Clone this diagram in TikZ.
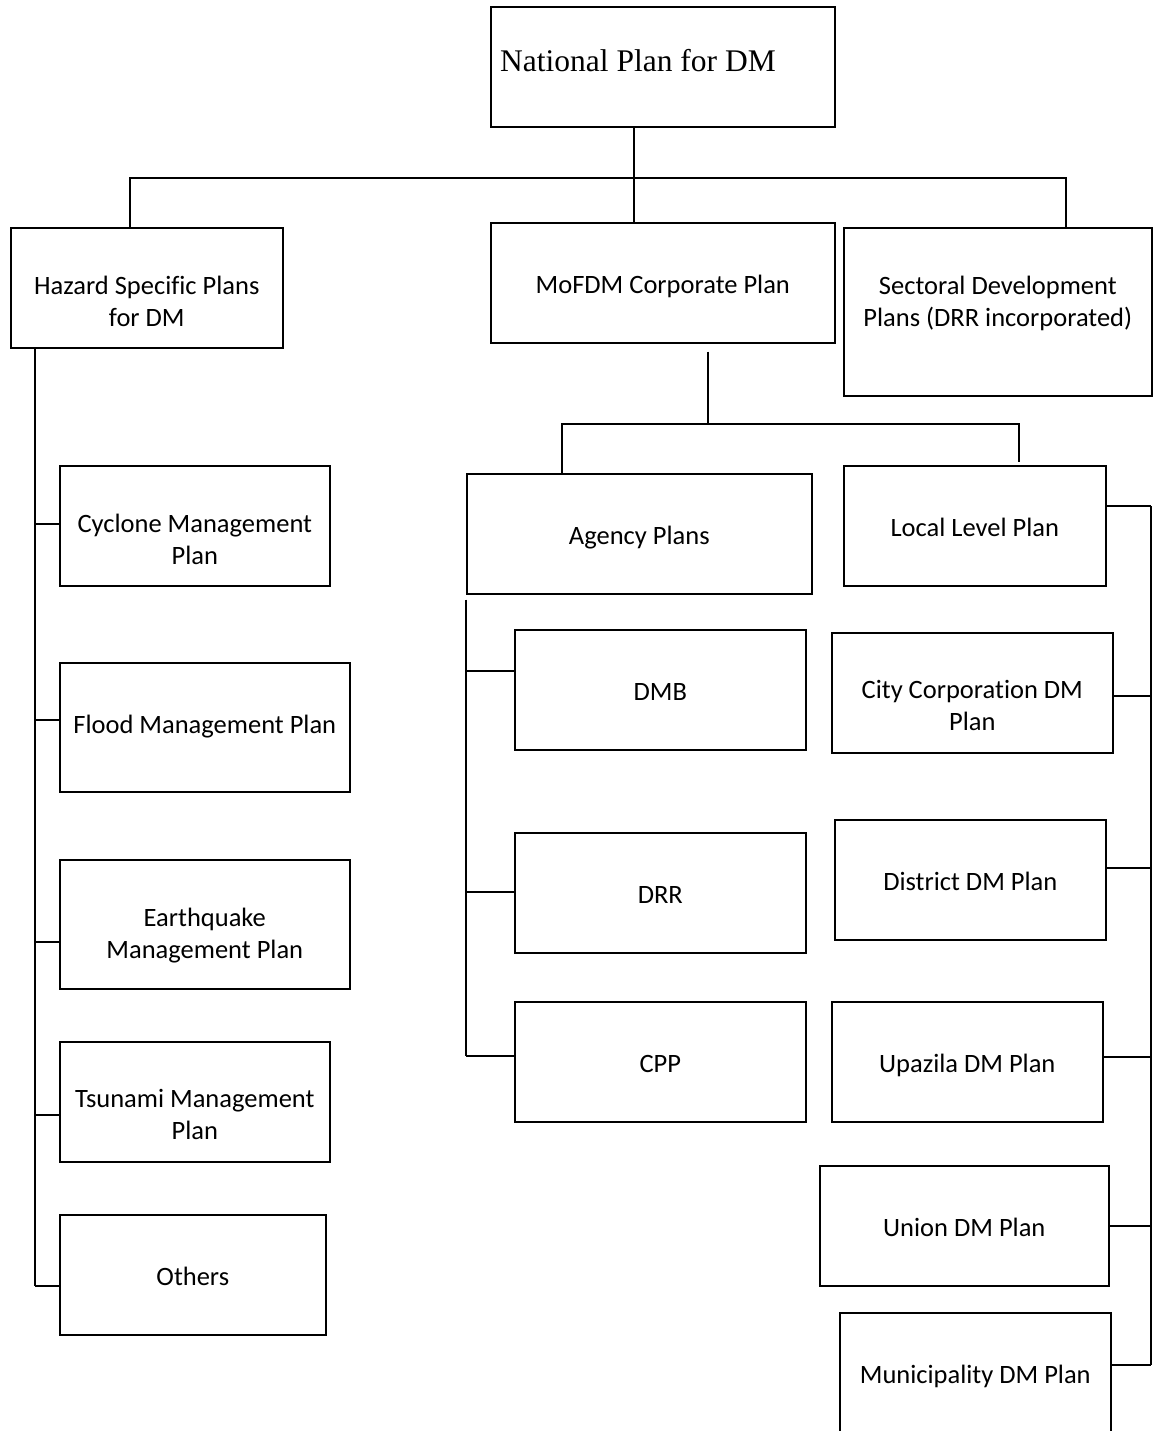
\documentclass[tikz,border=0pt]{standalone}
\usepackage{fontspec}
\setmainfont{Carlito}[Ligatures=NoCommon]
\newfontfamily\titlefont{Liberation Serif}
\usepackage{tikz}

\tikzset{
  box/.style={draw, line width=1.6pt, anchor=north west, inner sep=0pt},
  lbl/.style={anchor=north, inner sep=0pt, yshift=-48.5pt, align=center,
    font=\fontsize{26.5}{32}\selectfont, execute at begin node=\strut},
  ttl/.style={anchor=base west, inner sep=0pt, xshift=10pt, yshift=-66pt,
    font=\titlefont\fontsize{31.5}{38}\selectfont},
  link/.style={line width=1.6pt}
}

\begin{document}
\begin{tikzpicture}[x=1pt,y=-1pt]
\clip (0,0) rectangle (1154,1431);
\fill[white] (0,0) rectangle (1154,1431);

% top level
\node[box, minimum width=344pt, minimum height=120pt, label={[ttl]north west:National Plan for DM}] (national) at (490,6) {};
\node[box, minimum width=272pt, minimum height=120pt, label={[lbl]north:{Hazard Specific Plans\\for DM}}] (hazard) at (10,227) {};
\node[box, minimum width=344pt, minimum height=120pt, label={[lbl]north:MoFDM Corporate Plan}] (mofdm) at (490,222) {};
\node[box, minimum width=308pt, minimum height=168pt, label={[lbl]north:{Sectoral Development\\Plans (DRR incorporated)}}] (sectoral) at (843,227) {};

% hazard plans
\node[box, minimum width=270pt, minimum height=120pt, label={[lbl]north:{Cyclone Management\\Plan}}] (cyclone) at (59,465) {};
\node[box, minimum width=290pt, minimum height=129pt, label={[lbl]north:Flood Management Plan}] (flood) at (59,662) {};
\node[box, minimum width=290pt, minimum height=129pt, label={[lbl]north:{Earthquake\\Management Plan}}] (quake) at (59,859) {};
\node[box, minimum width=270pt, minimum height=120pt, label={[lbl]north:{Tsunami Management\\Plan}}] (tsunami) at (59,1041) {};
\node[box, minimum width=266pt, minimum height=120pt, label={[lbl]north:Others}] (others) at (59,1214) {};

% agency plans
\node[box, minimum width=345pt, minimum height=120pt, label={[lbl]north:Agency Plans}] (agency) at (466,473) {};
\node[box, minimum width=291pt, minimum height=120pt, label={[lbl]north:DMB}] (dmb) at (514,629) {};
\node[box, minimum width=291pt, minimum height=120pt, label={[lbl]north:DRR}] (drr) at (514,832) {};
\node[box, minimum width=291pt, minimum height=120pt, label={[lbl]north:CPP}] (cpp) at (514,1001) {};

% local level plans
\node[box, minimum width=262pt, minimum height=120pt, label={[lbl]north:Local Level Plan}] (local) at (843,465) {};
\node[box, minimum width=281pt, minimum height=120pt, label={[lbl]north:{City Corporation DM\\Plan}}] (city) at (831,632) {};
\node[box, minimum width=271pt, minimum height=120pt, label={[lbl]north:District DM Plan}] (district) at (834,819) {};
\node[box, minimum width=271pt, minimum height=120pt, label={[lbl]north:Upazila DM Plan}] (upazila) at (831,1001) {};
\node[box, minimum width=289pt, minimum height=120pt, label={[lbl]north:Union DM Plan}] (union) at (819,1165) {};
\node[box, minimum width=271pt, minimum height=140pt, label={[lbl]north:Municipality DM Plan}] (munic) at (839,1312) {};

% buses
\coordinate (jn1) at (634,178);
\coordinate (busL) at (130,178);
\coordinate (busR) at (1066,178);
\draw[link] (jn1 |- national.south) -- (jn1 |- mofdm.north);
\draw[link] (busL |- hazard.north) -- (busL) -- (busR) -- (busR |- sectoral.north);

\coordinate (jn2) at (708,424);
\coordinate (busA) at (562,424);
\coordinate (busB) at (1019,424);
\draw[link] (jn2 |- mofdm.south) ++(0,8) -- (jn2);
\draw[link] (busA |- agency.north) -- (busA) -- (busB) -- (1019,462);

% spines
\coordinate (spL) at (35,1286);
\draw[link] (spL |- hazard.south) -- (spL);
\foreach \n/\y in {cyclone/524, flood/720, quake/942, tsunami/1115, others/1286}
  \draw[link] (35,\y) -- (\n.west |- 0,\y);

\coordinate (spA) at (466,1056);
\draw[link] (spA |- agency.south) ++(0,5) -- (spA);
\foreach \n/\y in {dmb/671, drr/892, cpp/1056}
  \draw[link] (466,\y) -- (\n.west |- 0,\y);

\coordinate (spR) at (1151,1365);
\draw[link] (1151,506) -- (spR);
\foreach \n/\y in {local/506, city/696, district/868, upazila/1057, union/1226, munic/1365}
  \draw[link] (\n.east |- 0,\y) -- (spR |- 0,\y);
\end{tikzpicture}
\end{document}
